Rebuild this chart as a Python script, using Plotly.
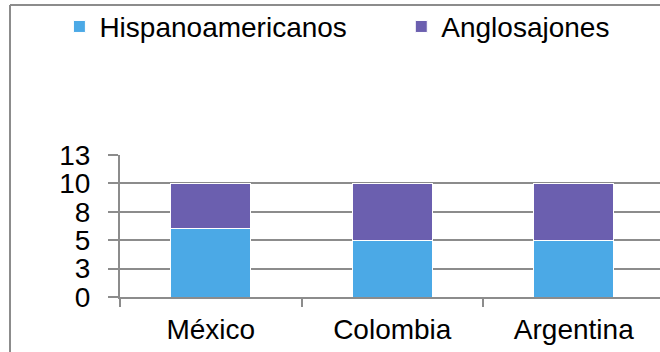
import plotly.graph_objects as go

categories = ["México", "Colombia", "Argentina"]
hispano = [6, 5, 5]
anglo = [4, 5, 5]
tick_vals = [0, 2.5, 5, 7.5, 10, 12.5]
tick_text = ["0", "3", "5", "8", "10", "13"]

BLUE = "#4BA9E6"
PURPLE = "#6B5FAF"
GRID = "#8C8C8C"
FONT = "Liberation Sans, Arial, sans-serif"

fig = go.Figure()
fig.add_trace(go.Bar(x=categories, y=hispano, name="Hispanoamericanos",
                     marker=dict(color=BLUE, line=dict(color="white", width=1)),
                     width=0.44, legend="legend"))
fig.add_trace(go.Bar(x=categories, y=anglo, name="Anglosajones",
                     marker=dict(color=PURPLE, line=dict(color="white", width=1)),
                     width=0.44, legend="legend2"))

leg_common = dict(orientation="h", xref="container", yref="container",
                  y=0.995, xanchor="left", yanchor="top",
                  font=dict(size=28), bgcolor="rgba(0,0,0,0)")

fig.update_layout(
    barmode="stack",
    width=660, height=352,
    margin=dict(l=120, r=0, t=155, b=55),
    paper_bgcolor="white", plot_bgcolor="white",
    font=dict(family=FONT, size=28, color="black"),
    showlegend=True,
    legend=dict(x=0.09, **leg_common),
    legend2=dict(x=0.608, **leg_common),
    xaxis=dict(range=[-0.5, 2.475], showgrid=False, showline=True, linecolor=GRID,
               linewidth=2, ticks="outside", ticklen=8, tickwidth=2, tickcolor=GRID,
               tickson="boundaries", fixedrange=True, ticklabelstandoff=6),
    yaxis=dict(range=[0, 12.5], tickvals=tick_vals, ticktext=tick_text,
               showgrid=True, gridcolor=GRID, gridwidth=2, showline=True,
               linecolor=GRID, linewidth=2, ticks="outside", ticklen=10,
               tickwidth=2, tickcolor=GRID, zeroline=False, ticklabelstandoff=12),
    shapes=[
        dict(type="line", xref="paper", yref="paper", x0=0, x1=0, y0=0, y1=-0.06,
             line=dict(color=GRID, width=2)),
        dict(type="line", xref="paper", yref="paper", x0=-0.2037, x1=-0.2037,
             y0=2.056, y1=-0.5, line=dict(color=GRID, width=2)),
        dict(type="line", xref="paper", yref="paper", x0=-0.2037, x1=1.1,
             y0=2.056, y1=2.056, line=dict(color=GRID, width=2)),
    ],
)

fig.write_html("out.html")
